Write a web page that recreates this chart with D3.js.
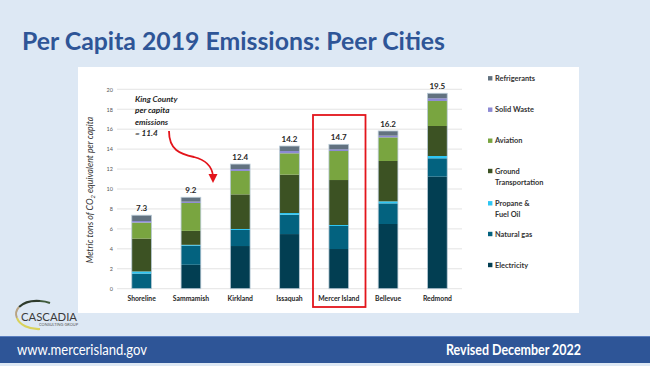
<!DOCTYPE html>
<html><head><meta charset="utf-8">
<script src="https://cdn.jsdelivr.net/npm/d3@7"></script>
<style>html,body{margin:0;padding:0;background:#dde8f4;}svg{display:block;}</style>
</head><body>
<svg id="chart" width="650" height="366"></svg>
<script>
const cities = ["Shoreline","Sammamish","Kirkland","Issaquah","Mercer Island","Bellevue","Redmond"];
const totals = ["7.3","9.2","12.4","14.2","14.7","16.2","19.5"];
const sectors = ["Electricity","Natural gas","Propane & Fuel Oil","Ground Transportation","Aviation","Solid Waste","Refrigerants"];
const electricity = [0.00, 2.40, 4.28, 5.48, 3.98, 6.49, 11.24];
const naturalGas  = [1.52, 1.92, 1.61, 1.94, 2.31, 2.07, 1.84];
const propane     = [0.21, 0.08, 0.10, 0.17, 0.10, 0.20, 0.23];
const ground      = [3.30, 1.40, 3.47, 3.85, 4.51, 4.05, 3.01];
const aviation    = [1.60, 2.80, 2.35, 2.14, 2.91, 2.37, 2.51];
const solidWaste  = [0.16, 0.13, 0.19, 0.23, 0.17, 0.17, 0.27];
const refrigerants= [0.58, 0.44, 0.50, 0.50, 0.50, 0.47, 0.50];
const yTicks = [0,2,4,6,8,10,12,14,16,18,20];
const colors = ["#023e52","#03627f","#2ec6f3","#3c5223","#79a540","#8d8ad4","#627280"];
const legendLines = [["Refrigerants"],["Solid Waste"],["Aviation"],["Ground","Transportation"],["Propane &","Fuel Oil"],["Natural gas"],["Electricity"]];
const legendColors = ["#627280","#8d8ad4","#79a540","#3c5223","#2ec6f3","#03627f","#023e52"];
const annotation = ["King County","per capita","emissions","= 11.4"];

const series = [electricity, naturalGas, propane, ground, aviation, solidWaste, refrigerants];
const rows = cities.map((c,i)=>{const o={city:c}; sectors.forEach((s,k)=>o[s]=series[k][i]); return o;});
const stacked = d3.stack().keys(sectors)(rows);

const svg = d3.select("#chart");
const F = "Lato, 'Open Sans', sans-serif";

svg.append("rect").attr("width",650).attr("height",366).attr("fill","#dde8f4");
svg.append("text").attr("x",22).attr("y",50).attr("font-family",F).attr("font-weight",700)
  .attr("font-size",25).attr("fill","#2e5597").attr("textLength",423).attr("lengthAdjust","spacingAndGlyphs")
  .text("Per Capita 2019 Emissions: Peer Cities");
svg.append("rect").attr("x",78).attr("y",67).attr("width",501).attr("height",246).attr("fill","#ffffff");

const x = d3.scaleBand().domain(cities).range([117,462]).paddingInner(0.6).paddingOuter(0.3);
const y = d3.scaleLinear().domain([0,20]).range([288.7,89.3]);

svg.append("g").selectAll("line").data(yTicks).join("line")
  .attr("x1",117).attr("x2",462).attr("y1",d=>y(d)).attr("y2",d=>y(d))
  .attr("stroke","#dcdcdc").attr("stroke-width",0.8);
const yAxis = svg.append("g").attr("transform","translate(117,0)")
  .call(d3.axisLeft(y).tickValues(yTicks).tickSize(0).tickPadding(4));
yAxis.select(".domain").remove();
yAxis.selectAll("text").attr("font-family",F).attr("font-size",5.5).attr("fill","#555");

const yt = svg.append("text").attr("transform","translate(93,190) rotate(-90)")
  .attr("text-anchor","middle").attr("font-family",F).attr("font-style","italic")
  .attr("font-size",8.8).attr("fill","#333");
yt.append("tspan").text("Metric tons of CO");
yt.append("tspan").attr("font-size",6).attr("dy",2).text("2");
yt.append("tspan").attr("dy",-2).text(" equivalent per capita");

svg.append("g").selectAll("g").data(stacked).join("g").attr("fill",(d,i)=>colors[i])
  .selectAll("rect").data(d=>d).join("rect")
  .attr("x",d=>x(d.data.city)).attr("width",x.bandwidth())
  .attr("y",d=>y(d[1])).attr("height",d=>Math.max(0,y(d[0])-y(d[1])));
const topLayer = stacked[stacked.length-1];
svg.append("g").selectAll("rect").data(topLayer).join("rect")
  .attr("x",d=>x(d.data.city)).attr("width",x.bandwidth())
  .attr("y",d=>y(d[1])).attr("height",d=>y(0)-y(d[1]))
  .attr("fill","none").attr("stroke","#b9cad6").attr("stroke-width",0.8);
svg.append("g").selectAll("text").data(topLayer).join("text")
  .attr("x",d=>x(d.data.city)+x.bandwidth()/2).attr("y",d=>y(d[1])-4)
  .attr("text-anchor","middle").attr("font-family",F).attr("font-weight",700)
  .attr("font-size",8).attr("fill","#262626").text((d,i)=>totals[i]);

const xAxis = svg.append("g").attr("transform","translate(0,296)")
  .call(d3.axisBottom(x).tickSize(0).tickPadding(0));
xAxis.select(".domain").remove();
xAxis.selectAll("text").attr("font-family",F).attr("font-weight",700).attr("font-size",6.8).attr("fill","#262626");

svg.append("rect").attr("x",313).attr("y",115).attr("width",52.5).attr("height",192)
  .attr("fill","none").attr("stroke","#e3141b").attr("stroke-width",1.8);

const an = svg.append("text").attr("font-family",F).attr("font-weight",700).attr("font-style","italic")
  .attr("font-size",8.2).attr("fill","#262626");
annotation.forEach((t,i)=>an.append("tspan").attr("x",135).attr("y",102+i*11.4).text(t));
svg.append("path").attr("d","M169,131 C169,150 180,154 194,157 C206,160 212,166 213,176")
  .attr("fill","none").attr("stroke","#e3141b").attr("stroke-width",1.8);
svg.append("path").attr("d","M208.5,174 L217.5,174 L213,183 Z").attr("fill","#e3141b");

const lg = svg.append("g");
legendLines.forEach((lines,i)=>{
  const yy = [78.3,109.7,140.7,171,203.3,234,265][i];
  lg.append("rect").attr("x",488).attr("y",yy-2.2).attr("width",4.4).attr("height",4.4).attr("fill",legendColors[i]);
  lines.forEach((t,j)=>lg.append("text").attr("x",495).attr("y",yy+2.5+j*11.5)
    .attr("font-family",F).attr("font-weight",700).attr("font-size",7.4).attr("fill","#333").text(t));
});

const lo = svg.append("g");
lo.append("path").attr("d","M19,307 A22,14 0 0 1 40,301").attr("fill","none").attr("stroke","#2e3b2c").attr("stroke-width",2.2);
lo.append("path").attr("d","M40,301 A22,14 0 0 1 50,303").attr("fill","none").attr("stroke","#3f5a3a").attr("stroke-width",2);
lo.append("path").attr("d","M19,307 A22,14 0 0 0 17,318").attr("fill","none").attr("stroke","#b8a383").attr("stroke-width",2);
lo.append("path").attr("d","M17,318 A22,14 0 0 0 40,329").attr("fill","none").attr("stroke","#d9d25a").attr("stroke-width",2.2);
lo.append("text").attr("x",21).attr("y",320.5).attr("font-family",F).attr("font-size",11.5)
  .attr("fill","#3a3a3a").attr("textLength",56).attr("lengthAdjust","spacingAndGlyphs").text("CASCADIA");
lo.append("text").attr("x",39).attr("y",325.5).attr("font-family",F).attr("font-size",3)
  .attr("fill","#555").attr("textLength",39).attr("lengthAdjust","spacingAndGlyphs").text("CONSULTING GROUP");

svg.append("rect").attr("x",0).attr("y",336).attr("width",650).attr("height",27).attr("fill","#2e5597");
svg.append("line").attr("x1",0).attr("x2",650).attr("y1",336.5).attr("y2",336.5).attr("stroke","#5b7fbf").attr("stroke-width",1);
svg.append("text").attr("x",17).attr("y",354.5).attr("font-family",F).attr("font-size",14.5)
  .attr("fill","#ffffff").attr("textLength",130).attr("lengthAdjust","spacingAndGlyphs").text("www.mercerisland.gov");
svg.append("text").attr("x",446).attr("y",355).attr("font-family",F).attr("font-weight",700).attr("font-size",14.5)
  .attr("fill","#ffffff").attr("textLength",135).attr("lengthAdjust","spacingAndGlyphs").text("Revised December 2022");
</script>
</body></html>
